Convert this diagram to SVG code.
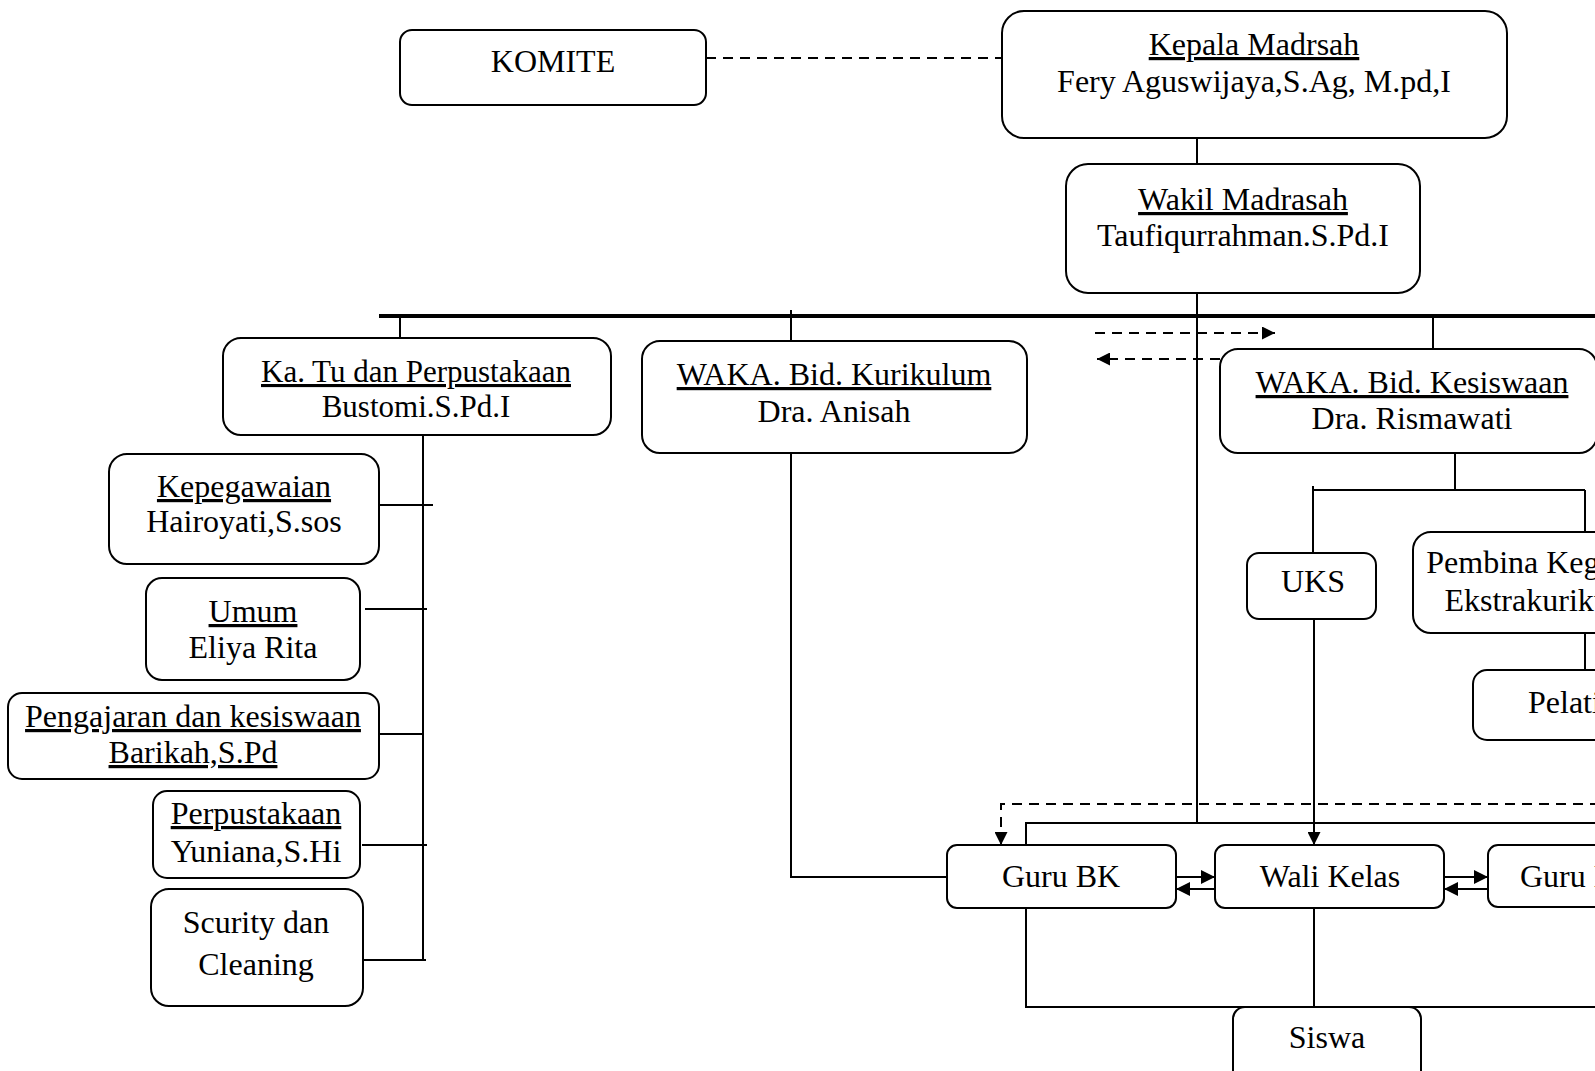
<svg xmlns="http://www.w3.org/2000/svg" width="1595" height="1071" viewBox="0 0 1595 1071">
<defs>
<style>
.box{fill:#fff;stroke:#000;stroke-width:2}
.t{font-family:"Liberation Serif","Times New Roman",serif;font-size:32px;fill:#000;text-anchor:middle}
.u{text-decoration:underline}
.ln{fill:none;stroke:#000;stroke-width:2}
.dash{fill:none;stroke:#000;stroke-width:2;stroke-dasharray:10 7}
.bar{fill:none;stroke:#000;stroke-width:4}
</style>
<marker id="ah" viewBox="0 0 10 10" refX="10" refY="5" markerWidth="15" markerHeight="13" markerUnits="userSpaceOnUse" orient="auto"><path d="M0,0 L10,5 L0,10 z" fill="#000"/></marker>
<marker id="ahb" viewBox="0 0 10 10" refX="10" refY="5" markerWidth="17" markerHeight="14" markerUnits="userSpaceOnUse" orient="auto"><path d="M0,0 L10,5 L0,10 z" fill="#000"/></marker>
</defs>
<rect width="1595" height="1071" fill="#fff"/>
<g id="connectors">
<line class="dash" x1="706" y1="58" x2="1002" y2="58"/>
<line class="ln" x1="1197" y1="138" x2="1197" y2="164"/>
<line class="ln" x1="1197" y1="293" x2="1197" y2="823"/>
<line class="bar" x1="379" y1="316" x2="1600" y2="316"/>
<line class="ln" x1="400" y1="316" x2="400" y2="338"/>
<line class="ln" x1="791" y1="310" x2="791" y2="341"/>
<line class="ln" x1="1433" y1="316" x2="1433" y2="349"/>
<line class="ln" x1="423" y1="435" x2="423" y2="961"/>
<line class="ln" x1="372" y1="505" x2="433" y2="505"/>
<line class="ln" x1="365" y1="609" x2="427" y2="609"/>
<line class="ln" x1="363" y1="734" x2="423" y2="734"/>
<line class="ln" x1="362" y1="845" x2="427" y2="845"/>
<line class="ln" x1="363" y1="960" x2="426" y2="960"/>
<polyline class="ln" points="791,453 791,877 947,877"/>
<line class="dash" x1="1095" y1="333" x2="1275" y2="333" marker-end="url(#ah)"/>
<line class="dash" x1="1220" y1="359" x2="1097" y2="359" marker-end="url(#ah)"/>
<line class="ln" x1="1455" y1="453" x2="1455" y2="490"/>
<line class="ln" x1="1313" y1="490" x2="1585" y2="490"/>
<line class="ln" x1="1313" y1="486" x2="1313" y2="553"/>
<line class="ln" x1="1585" y1="490" x2="1585" y2="532"/>
<line class="ln" x1="1314" y1="619" x2="1314" y2="845" marker-end="url(#ah)"/>
<line class="ln" x1="1585" y1="633" x2="1585" y2="670"/>
<polyline class="dash" points="1600,804 1001,804 1001,845" marker-end="url(#ah)"/>
<polyline class="ln" points="1600,823 1026,823 1026,845"/>
<polyline class="ln" points="1026,908 1026,1007 1600,1007"/>
<line class="ln" x1="1314" y1="908" x2="1314" y2="1008"/>
<line class="ln" x1="1176" y1="877" x2="1215" y2="877" marker-end="url(#ahb)"/>
<line class="ln" x1="1215" y1="889" x2="1176" y2="889" marker-end="url(#ahb)"/>
<line class="ln" x1="1444" y1="877" x2="1488" y2="877" marker-end="url(#ahb)"/>
<line class="ln" x1="1488" y1="889" x2="1444" y2="889" marker-end="url(#ahb)"/>
</g>
<g id="komite"><rect class="box" x="400" y="30" width="306" height="75" rx="12"/><text class="t" x="553" y="72">KOMITE</text></g>
<g id="kepala"><rect class="box" x="1002" y="11" width="505" height="127" rx="22"/><text class="t u" x="1254" y="55">Kepala Madrsah</text><text class="t" x="1254" y="92">Fery Aguswijaya,S.Ag, M.pd,I</text></g>
<g id="wakil"><rect class="box" x="1066" y="164" width="354" height="129" rx="22"/><text class="t u" x="1243" y="210">Wakil Madrasah</text><text class="t" x="1243" y="246">Taufiqurrahman.S.Pd.I</text></g>
<g id="katu"><rect class="box" x="223" y="338" width="388" height="97" rx="18"/><text class="t u" x="416" y="382" style="font-size:31px">Ka. Tu dan Perpustakaan</text><text class="t" x="416" y="417" style="font-size:31px">Bustomi.S.Pd.I</text></g>
<g id="kurikulum"><rect class="box" x="642" y="341" width="385" height="112" rx="18"/><text class="t u" x="834" y="385">WAKA. Bid. Kurikulum</text><text class="t" x="834" y="422">Dra. Anisah</text></g>
<g id="kesiswaan"><rect class="box" x="1220" y="349" width="377" height="104" rx="18"/><text class="t u" x="1412" y="393">WAKA. Bid. Kesiswaan</text><text class="t" x="1412" y="429">Dra. Rismawati</text></g>
<g id="kepegawaian"><rect class="box" x="109" y="454" width="270" height="110" rx="18"/><text class="t u" x="244" y="497">Kepegawaian</text><text class="t" x="244" y="532">Hairoyati,S.sos</text></g>
<g id="umum"><rect class="box" x="146" y="578" width="214" height="102" rx="16"/><text class="t u" x="253" y="622">Umum</text><text class="t" x="253" y="658">Eliya Rita</text></g>
<g id="pengajaran"><rect class="box" x="8" y="693" width="371" height="86" rx="14"/><text class="t u" x="193" y="727">Pengajaran dan kesiswaan</text><text class="t u" x="193" y="763">Barikah,S.Pd</text></g>
<g id="perpustakaan"><rect class="box" x="153" y="791" width="207" height="87" rx="14"/><text class="t u" x="256" y="824">Perpustakaan</text><text class="t" x="256" y="862">Yuniana,S.Hi</text></g>
<g id="scurity"><rect class="box" x="151" y="889" width="212" height="117" rx="18"/><text class="t" x="256" y="933">Scurity dan</text><text class="t" x="256" y="975">Cleaning</text></g>
<g id="uks"><rect class="box" x="1247" y="553" width="129" height="66" rx="12"/><text class="t" x="1313" y="592">UKS</text></g>
<g id="pembina"><rect class="box" x="1413" y="532" width="270" height="101" rx="18"/><text class="t" x="1544" y="573">Pembina Kegiatan</text><text class="t" x="1544" y="611">Ekstrakurikuler</text></g>
<g id="pelatih"><rect class="box" x="1473" y="670" width="200" height="70" rx="14"/><text class="t" x="1528" y="713" style="text-anchor:start">Pelatih</text></g>
<g id="gurubk"><rect class="box" x="947" y="845" width="229" height="63" rx="10"/><text class="t" x="1061" y="887">Guru BK</text></g>
<g id="walikelas"><rect class="box" x="1215" y="845" width="229" height="63" rx="10"/><text class="t" x="1330" y="887">Wali Kelas</text></g>
<g id="gurumapel"><rect class="box" x="1488" y="845" width="229" height="62" rx="10"/><text class="t" x="1520" y="887" style="text-anchor:start">Guru Mapel</text></g>
<g id="siswa"><rect class="box" x="1233" y="1007" width="188" height="80" rx="12"/><text class="t" x="1327" y="1048">Siswa</text></g>
</svg>
